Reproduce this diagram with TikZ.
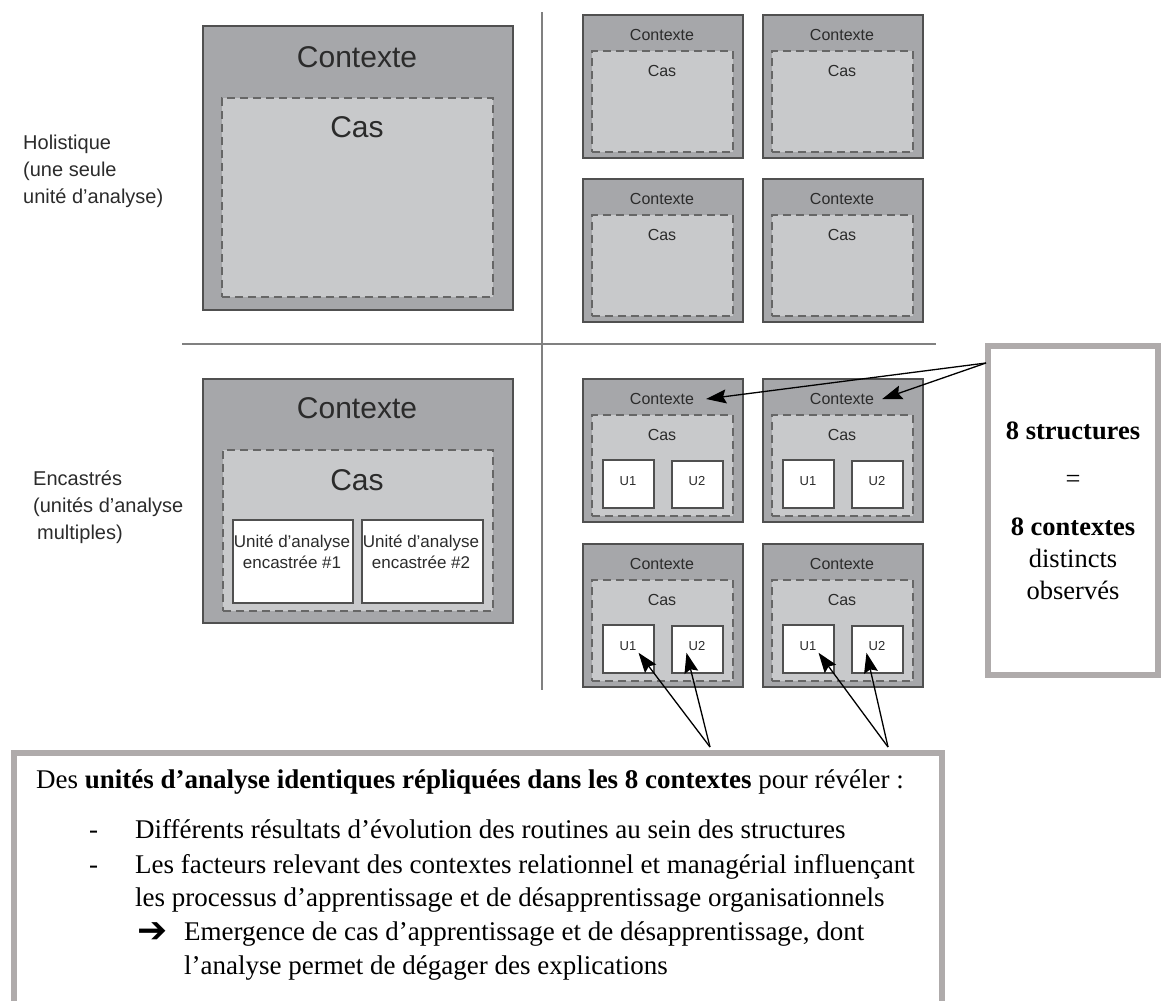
\documentclass[tikz,border=0pt]{standalone}
\usepackage{fontspec}
\setmainfont{Liberation Serif}
\setsansfont{Liberation Sans}
\newfontfamily\arrowfont{DejaVu Sans}
\usetikzlibrary{arrows.meta}
\definecolor{ctxgray}{HTML}{A6A7AA}
\definecolor{casgray}{HTML}{C8C9CB}
\definecolor{linegray}{HTML}{505050}
\definecolor{dashgray}{HTML}{666666}
\definecolor{framegray}{HTML}{AFABAB}
\definecolor{textgray}{HTML}{2B2B2B}

\begin{document}
\begin{tikzpicture}[x=1pt,y=-1pt,>={Stealth[length=20pt,width=14pt,inset=3pt]},
  ctx node/.style={anchor=north west,draw=linegray,fill=ctxgray,line width=2pt,inner sep=0pt},
  cas node/.style={anchor=north west,draw=dashgray,fill=casgray,dash pattern=on 8pt off 5pt,line width=1.6pt,inner sep=0pt},
  unit node/.style={anchor=north west,draw=linegray,fill=white,line width=1.5pt,inner sep=0pt},
  big label/.style={inner sep=0pt,text=textgray,font=\sffamily\fontsize{30}{36}\selectfont},
  small label/.style={inner sep=0pt,text=textgray,font=\sffamily\fontsize{16}{19}\selectfont},
  u label/.style={inner sep=2pt,text=textgray,font=\sffamily\fontsize{13}{15}\selectfont},
  unit label/.style={inner sep=0pt,align=center,text=textgray,font=\sffamily\fontsize{17}{21}\selectfont},
  side label/.style={anchor=west,inner sep=0pt,align=left,text=textgray,font=\sffamily\fontsize{20}{27}\selectfont},
  frame node/.style={draw=framegray,line width=6pt,inner sep=0pt},
  body text/.style={anchor=base west,inner sep=0pt,font=\fontsize{27}{34}\selectfont},
  divider/.style={draw=gray,line width=2pt},
  pointer/.style={->,line width=1.3pt}]

\useasboundingbox (0,0) rectangle (1162,1001);
\clip (0,0) rectangle (1162,1001);

% dividers
\draw[divider] (542,12) -- (542,690);
\draw[divider] (182,344) -- (936,344);

% holistique
\node[side label] (hol) at (23,171) {Holistique\\(une seule\\unité d’analyse)};
\node[ctx node, minimum width=310, minimum height=284] (ch) at (202,25) {};
\node[cas node, minimum width=271, minimum height=199] (kh) at (221,97) {};
\node[big label] (th) at (357,57) {Contexte};
\node[big label] (sh) at (357,127) {Cas};

% encastres
\node[side label] (enc) at (33,507) {Encastrés\\(unités d’analyse\\\hspace{4pt}multiples)};
\node[ctx node, minimum width=310, minimum height=244] (ce) at (202,378) {};
\node[cas node, minimum width=270, minimum height=161] (ke) at (222,449) {};
\node[big label] (te) at (357,408) {Contexte};
\node[big label] (se) at (357,480) {Cas};
\node[unit node, minimum width=120, minimum height=83] (ue1) at (232,519) {};
\node[unit node, minimum width=121, minimum height=83] (ue2) at (361,519) {};
\node[unit label] (le1) at (292,552) {Unité d’analyse\\encastrée \#1};
\node[unit label] (le2) at (421,552) {Unité d’analyse\\encastrée \#2};

% multiple cases, holistic
\node[ctx node, minimum width=160, minimum height=143] (c1) at (582,14) {};
\node[cas node, minimum width=141, minimum height=101] (k1) at (591,50) {};
\node[small label] (t1) at (662,35) {Contexte};
\node[small label] (s1) at (662,71) {Cas};

\node[ctx node, minimum width=160, minimum height=143] (c2) at (762,14) {};
\node[cas node, minimum width=141, minimum height=101] (k2) at (771,50) {};
\node[small label] (t2) at (842,35) {Contexte};
\node[small label] (s2) at (842,71) {Cas};

\node[ctx node, minimum width=160, minimum height=143] (c3) at (582,178) {};
\node[cas node, minimum width=141, minimum height=101] (k3) at (591,214) {};
\node[small label] (t3) at (662,199) {Contexte};
\node[small label] (s3) at (662,235) {Cas};

\node[ctx node, minimum width=160, minimum height=143] (c4) at (762,178) {};
\node[cas node, minimum width=141, minimum height=101] (k4) at (771,214) {};
\node[small label] (t4) at (842,199) {Contexte};
\node[small label] (s4) at (842,235) {Cas};

% multiple cases, embedded
\node[ctx node, minimum width=160, minimum height=143] (c5) at (582,378) {};
\node[cas node, minimum width=141, minimum height=101] (k5) at (591,414) {};
\node[small label] (t5) at (662,399) {Contexte};
\node[small label] (s5) at (662,435) {Cas};
\node[unit node, minimum width=51, minimum height=48] (u5a) at (602,459) {};
\node[unit node, minimum width=51, minimum height=47] (u5b) at (671,460) {};
\node[u label] (l5a) at (628,481) {U1};
\node[u label] (l5b) at (697,481) {U2};

\node[ctx node, minimum width=160, minimum height=143] (c6) at (762,378) {};
\node[cas node, minimum width=141, minimum height=101] (k6) at (771,414) {};
\node[small label] (t6) at (842,399) {Contexte};
\node[small label] (s6) at (842,435) {Cas};
\node[unit node, minimum width=51, minimum height=48] (u6a) at (782,459) {};
\node[unit node, minimum width=51, minimum height=47] (u6b) at (851,460) {};
\node[u label] (l6a) at (808,481) {U1};
\node[u label] (l6b) at (877,481) {U2};

\node[ctx node, minimum width=160, minimum height=143] (c7) at (582,543) {};
\node[cas node, minimum width=141, minimum height=101] (k7) at (591,579) {};
\node[small label] (t7) at (662,564) {Contexte};
\node[small label] (s7) at (662,600) {Cas};
\node[unit node, minimum width=51, minimum height=48] (u7a) at (602,624) {};
\node[unit node, minimum width=51, minimum height=47] (u7b) at (671,625) {};
\node[u label] (l7a) at (628,646) {U1};
\node[u label] (l7b) at (697,646) {U2};

\node[ctx node, minimum width=160, minimum height=143] (c8) at (762,543) {};
\node[cas node, minimum width=141, minimum height=101] (k8) at (771,579) {};
\node[small label] (t8) at (842,564) {Contexte};
\node[small label] (s8) at (842,600) {Cas};
\node[unit node, minimum width=51, minimum height=48] (u8a) at (782,624) {};
\node[unit node, minimum width=51, minimum height=47] (u8b) at (851,625) {};
\node[u label] (l8a) at (808,646) {U1};
\node[u label] (l8b) at (877,646) {U2};

% notes
\node[frame node, minimum width=170, minimum height=329, align=center,
      font=\fontsize{26.5}{32}\selectfont] (struct) at (1073,510.5)
  {\textbf{8 structures}\\[16pt]=\\[16pt]\textbf{8 contextes}\\distincts\\observés};
\node[frame node, anchor=north west, minimum width=928, minimum height=265] (summary) at (11,750) {};

\node[body text] (d0) at (36,788) {Des \textbf{unités d’analyse identiques répliquées dans les 8 contextes} pour révéler :};
\node[body text] (b1) at (89,838) {-};
\node[body text] (d1) at (135,838) {Différents résultats d’évolution des routines au sein des structures};
\node[body text] (b2) at (89,873) {-};
\node[body text] (d2) at (135,873) {Les facteurs relevant des contextes relationnel et managérial influençant};
\node[body text] (d3) at (135,906) {les processus d’apprentissage et de désapprentissage organisationnels};
\node[body text, font=\arrowfont\bfseries\fontsize{36}{40}\selectfont] (b3) at (137,942) {➔};
\node[body text] (d4) at (184,940) {Emergence de cas d’apprentissage et de désapprentissage, dont};
\node[body text] (d5) at (184,974) {l’analyse permet de dégager des explications};

% pointers
\coordinate (sa) at (986,363);
\coordinate (pa) at (710,747);
\coordinate (pb) at (888,747);
\draw[pointer] (sa) -- ([xshift=12pt]t5.east);
\draw[pointer] (sa) -- ([xshift=8pt]t6.east);
\draw[pointer] (pa) -- (l7a.south east);
\draw[pointer] (pa) -- (l7b.south west);
\draw[pointer] (pb) -- (l8a.south east);
\draw[pointer] (pb) -- (l8b.south west);

\end{tikzpicture}
\end{document}
